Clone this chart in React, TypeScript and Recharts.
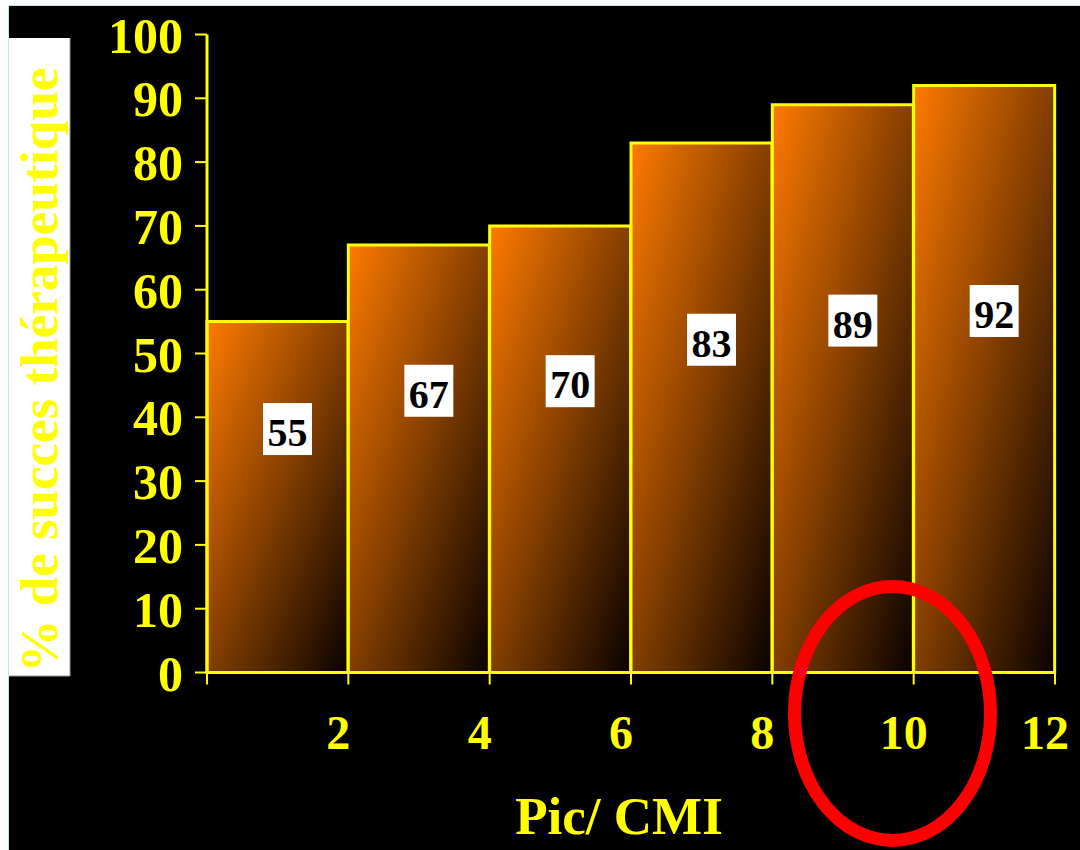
import React from 'react';
import { Bar, BarChart, LabelList, XAxis, YAxis } from 'recharts';

// each bar spans one Pic/CMI interval; bars sit at the interval midpoints
const intervalMids = [1, 3, 5, 7, 9, 11];
const successRates = [55, 67, 70, 83, 89, 92];
const ratioTicks = [0, 2, 4, 6, 8, 10, 12];
const percentTicks = [0, 10, 20, 30, 40, 50, 60, 70, 80, 90, 100];

const data = intervalMids.map((mid, i) => ({ mid, rate: successRates[i] }));

const YELLOW = '#ffff00';
const SERIF = "'Liberation Serif', 'Times New Roman', Times, serif";

const RateTag = (props: any) => {
  const { x, y, width, height, value } = props;
  const cx = x + width / 2 + 10;
  const cy = y + height / 2 - 68;
  return (
    <g>
      <rect x={cx - 24.5} y={cy - 26} width={49} height={52} fill="#ffffff" />
      <text
        x={cx}
        y={cy + 17}
        textAnchor="middle"
        fontFamily={SERIF}
        fontWeight="bold"
        fontSize={40}
        fill="#000000"
      >
        {value}
      </text>
    </g>
  );
};

const PercentTick = (props: any) => {
  const { x, y, payload } = props;
  return (
    <text
      x={x}
      y={y + 18}
      textAnchor="end"
      fontFamily={SERIF}
      fontWeight="bold"
      fontSize={50}
      fill={YELLOW}
    >
      {payload.value}
    </text>
  );
};

const RatioTick = (props: any) => {
  const { x, y, payload } = props;
  if (payload.value === 0) return <g />;
  return (
    <text
      x={x - 10}
      y={y + 64.5}
      textAnchor="middle"
      fontFamily={SERIF}
      fontWeight="bold"
      fontSize={48}
      fill={YELLOW}
    >
      {payload.value}
    </text>
  );
};

// white side panel holding the vertical axis title
const PercentTitle = () => (
  <g>
    <rect x={9} y={38} width={61} height={638} fill="#ffffff" />
    <line x1={70} y1={38} x2={70} y2={676} stroke="#9a9a9a" strokeWidth={1} />
    <line x1={9} y1={676} x2={70} y2={676} stroke="#9a9a9a" strokeWidth={1} />
    <text
      transform="translate(57, 370) rotate(-90)"
      textAnchor="middle"
      fontFamily={SERIF}
      fontWeight="bold"
      fontSize={53}
      fill={YELLOW}
    >
      % de succes thérapeutique
    </text>
  </g>
);

const RatioTitle = () => (
  <text
    x={619}
    y={834}
    textAnchor="middle"
    fontFamily={SERIF}
    fontWeight="bold"
    fontSize={53}
    fill={YELLOW}
  >
    Pic/ CMI
  </text>
);

export default function App() {
  return (
    <div
      style={{
        position: 'absolute',
        left: 0,
        top: 0,
        width: 1080,
        height: 850,
        background: '#ffffff',
        overflow: 'hidden',
      }}
    >
      <div
        style={{
          position: 'absolute',
          left: 8,
          top: 5,
          width: 1072,
          height: 845,
          background: '#000000',
          borderTop: '1px solid #c4e4f4',
          borderLeft: '1px solid #c4e4f4',
        }}
      />
      <div style={{ position: 'absolute', left: 0, top: 0 }}>
        <BarChart
          width={1080}
          height={850}
          data={data}
          barCategoryGap={0}
          margin={{ top: 34.5, right: 25, bottom: 77.5, left: 87 }}
        >
          <defs>
            <linearGradient id="barFill" x1="0" y1="0" x2="1" y2="1">
              <stop offset="0%" stopColor="#ff7a00" />
              <stop offset="100%" stopColor="#080200" />
            </linearGradient>
          </defs>
          <XAxis
            dataKey="mid"
            type="number"
            domain={[0, 12]}
            ticks={ratioTicks}
            interval={0}
            height={100}
            axisLine={{ stroke: YELLOW, strokeWidth: 3 }}
            tickLine={{ stroke: YELLOW, strokeWidth: 2 }}
            tickSize={12}
            tickMargin={0}
            tick={<RatioTick />}
            label={<RatioTitle />}
          />
          <YAxis
            type="number"
            domain={[0, 100]}
            ticks={percentTicks}
            interval={0}
            width={120}
            axisLine={{ stroke: YELLOW, strokeWidth: 3 }}
            tickLine={{ stroke: YELLOW, strokeWidth: 2 }}
            tickSize={12}
            tickMargin={12}
            tick={<PercentTick />}
            label={<PercentTitle />}
          />
          <Bar
            dataKey="rate"
            fill="url(#barFill)"
            stroke={YELLOW}
            strokeWidth={3}
            isAnimationActive={false}
          >
            <LabelList dataKey="rate" content={<RateTag />} />
          </Bar>
        </BarChart>
      </div>
      <svg
        width={1080}
        height={850}
        style={{ position: 'absolute', left: 0, top: 0, pointerEvents: 'none' }}
      >
        <ellipse
          cx={892.5}
          cy={713.5}
          rx={98}
          ry={127}
          fill="none"
          stroke="#ff0000"
          strokeWidth={13}
        />
      </svg>
    </div>
  );
}
